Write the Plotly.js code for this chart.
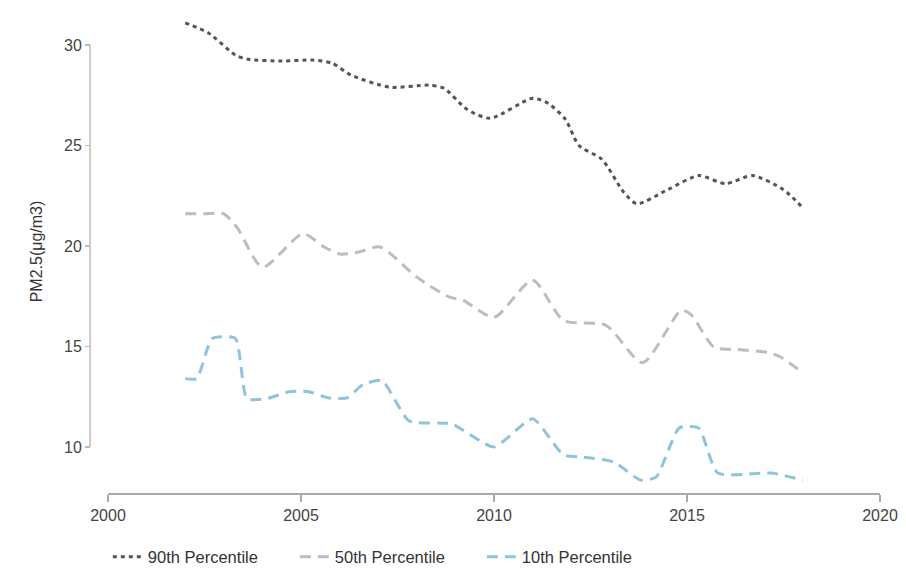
<!DOCTYPE html>
<html>
<head>
<meta charset="utf-8">
<script src="https://cdn.plot.ly/plotly-3.0.1.min.js"></script>
<style>html,body{margin:0;padding:0;background:#fff;}#chart{width:906px;height:571px;}</style>
</head>
<body>
<div id="chart"></div>
<script>
// Data
const p90Years = [2002.0, 2002.6, 2003.3, 2003.6, 2004.5, 2005.3, 2005.8, 2006.3, 2007.3, 2008.3, 2008.7, 2009.3, 2009.9, 2011.0, 2011.4, 2011.85, 2012.2, 2012.8, 2013.35, 2013.7, 2014.5, 2015.3, 2016.0, 2016.7, 2017.5, 2018.0];
const p90Values = [31.1, 30.6, 29.5, 29.3, 29.2, 29.25, 29.1, 28.5, 27.9, 28.0, 27.85, 26.8, 26.35, 27.35, 27.1, 26.3, 25.0, 24.3, 22.7, 22.1, 22.8, 23.5, 23.1, 23.5, 22.8, 21.9];

const p50Years = [2002.0, 2002.5, 2003.0, 2003.35, 2004.0, 2005.05, 2005.6, 2006.0, 2006.5, 2007.05, 2008.0, 2008.85, 2009.2, 2010.0, 2011.0, 2011.8, 2012.9, 2013.85, 2014.85, 2015.1, 2015.7, 2016.3, 2017.1, 2017.4, 2018.0];
const p50Values = [21.6, 21.6, 21.6, 20.9, 18.95, 20.6, 19.95, 19.6, 19.7, 19.95, 18.45, 17.45, 17.3, 16.45, 18.3, 16.3, 16.05, 14.2, 16.8, 16.6, 14.97, 14.85, 14.7, 14.5, 13.7];

const p10Years = [2002.0, 2002.3, 2002.7, 2003.3, 2003.6, 2004.1, 2004.7, 2005.2, 2005.7, 2006.2, 2006.6, 2007.1, 2007.8, 2008.9, 2010.0, 2011.0, 2011.8, 2012.3, 2013.1, 2013.8, 2014.2, 2014.8, 2015.3, 2015.8, 2017.2, 2018.0];
const p10Values = [13.4, 13.4, 15.4, 15.4, 12.4, 12.4, 12.75, 12.75, 12.45, 12.45, 13.1, 13.3, 11.3, 11.15, 10.0, 11.4, 9.6, 9.5, 9.25, 8.35, 8.5, 10.95, 10.95, 8.7, 8.7, 8.35];

const seriesNames = ["90th Percentile", "50th Percentile", "10th Percentile"];
const xTicks = [2000, 2005, 2010, 2015, 2020];
const yTicks = [10, 15, 20, 25, 30];
const yTitle = "PM2.5(μg/m3)";

const FONT = "Liberation Sans, Arial, sans-serif";

const traces = [
  {x: p90Years, y: p90Values, name: seriesNames[0], mode: "lines",
   line: {color: "#555555", width: 3, dash: "4px,4px", shape: "spline", smoothing: 0.7}},
  {x: p50Years, y: p50Values, name: seriesNames[1], mode: "lines",
   line: {color: "#bdbdbd", width: 3, dash: "11px,7px", shape: "spline", smoothing: 0.7}},
  {x: p10Years, y: p10Values, name: seriesNames[2], mode: "lines",
   line: {color: "#8ec4dc", width: 3, dash: "11px,7px", shape: "spline", smoothing: 0.55}}
];

const layout = {
  width: 906, height: 571,
  margin: {l: 90, r: 26, t: 10, b: 78, autoexpand: false},
  paper_bgcolor: "#ffffff", plot_bgcolor: "#ffffff",
  font: {family: FONT, size: 16, color: "#333333"},
  showlegend: true,
  legend: {orientation: "h", xref: "container", x: 0.119, xanchor: "left",
           yref: "container", y: 0.0245, yanchor: "middle",
           font: {family: FONT, size: 16.5, color: "#333333"}, entrywidth: 142, entrywidthmode: "pixels",
           bgcolor: "rgba(0,0,0,0)"},
  xaxis: {range: [2000, 2020], domain: [18/790, 1], tickvals: xTicks, ticktext: xTicks.map(String),
          ticks: "outside", ticklen: 7, tickcolor: "#aaaaaa", tickwidth: 1.5,
          showline: true, linecolor: "#aaaaaa", linewidth: 1.5,
          showgrid: false, zeroline: false, tickfont: {family: FONT, size: 16, color: "#444444"}},
  yaxis: {range: [7.71, 31.74], anchor: "free", position: 0, tickvals: yTicks, ticktext: yTicks.map(String),
          ticks: "outside", ticklen: 5, tickcolor: "#bbbbbb", tickwidth: 1.5,
          showline: false, showgrid: false, zeroline: false,
          tickfont: {family: FONT, size: 16, color: "#444444"},
          title: {text: yTitle, font: {family: FONT, size: 16, color: "#333333"}, standoff: 16}},
  shapes: [
    {type: "line", xref: "paper", yref: "y", x0: 0, x1: 0, y0: yTicks[0], y1: yTicks[yTicks.length - 1],
     line: {color: "#bbbbbb", width: 1.5}}
  ]
};

Plotly.newPlot("chart", traces, layout, {displayModeBar: false, staticPlot: true});
</script>
</body>
</html>
